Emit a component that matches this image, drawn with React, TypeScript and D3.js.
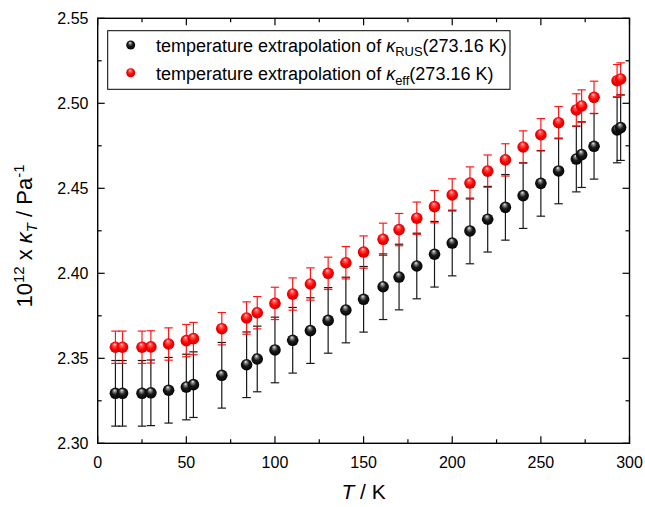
import React from "react";
import * as d3 from "d3";

const temperatures = [10, 14, 25, 30, 40, 50, 54, 70, 84, 90, 100, 110, 120, 130, 140, 150, 161, 170, 180, 190, 200, 210, 220, 230, 240, 250, 260, 270, 273, 280, 293, 295];
const kappaRUS = [2.3294, 2.3294, 2.3294, 2.3297, 2.3312, 2.3331, 2.3345, 2.34, 2.3462, 2.3496, 2.3549, 2.3606, 2.3663, 2.3723, 2.3784, 2.3847, 2.3921, 2.3978, 2.4043, 2.4112, 2.4178, 2.4249, 2.4318, 2.4388, 2.4457, 2.4529, 2.4602, 2.4672, 2.4698, 2.4747, 2.4843, 2.4857];
const kappaEff = [2.3565, 2.3565, 2.3565, 2.3567, 2.3584, 2.3604, 2.3616, 2.3674, 2.3737, 2.3768, 2.3823, 2.3878, 2.3937, 2.4, 2.4062, 2.4125, 2.42, 2.4257, 2.4324, 2.4392, 2.4461, 2.4531, 2.4601, 2.4667, 2.4743, 2.4815, 2.4886, 2.4961, 2.4984, 2.5035, 2.5133, 2.5143];
const errRUS = 0.0193;
const errEff = 0.0095;
const xTicks = [0, 50, 100, 150, 200, 250, 300];
const xMinor = [25, 75, 125, 175, 225, 275];
const yTicks = [2.3, 2.35, 2.4, 2.45, 2.5, 2.55];
const yMinor = [2.325, 2.375, 2.425, 2.475, 2.525];

const W = 645, H = 507;
const L = 97.7, R = 629.5, T = 18.3, B = 443.3;
const FONT = "Liberation Sans, Arial, sans-serif";

export default function App() {
  const x = d3.scaleLinear().domain([0, 300]).range([L, R]);
  const y = d3.scaleLinear().domain([2.3, 2.55]).range([B, T]);
  const majorLen = 7, minorLen = 4;
  const capW = 4.2;

  const series = [
    { vals: kappaRUS, err: errRUS, color: "#000", grad: "gBlack" },
    { vals: kappaEff, err: errEff, color: "#f00", grad: "gRed" },
  ];

  return (
    <svg width={W} height={H} style={{ position: "absolute", left: 0, top: 0 }} fontFamily={FONT}>
      <defs>
        <radialGradient id="gBlack" cx="0.5" cy="0.5" r="0.55" fx="0.42" fy="0.22">
          <stop offset="0" stopColor="#f2f2f2" />
          <stop offset="0.2" stopColor="#8a8a8a" />
          <stop offset="0.5" stopColor="#1a1a1a" />
          <stop offset="1" stopColor="#000" />
        </radialGradient>
        <radialGradient id="gRed" cx="0.5" cy="0.5" r="0.55" fx="0.42" fy="0.22">
          <stop offset="0" stopColor="#ffe6e6" />
          <stop offset="0.22" stopColor="#ff5a5a" />
          <stop offset="0.6" stopColor="#ff0000" />
          <stop offset="1" stopColor="#c80000" />
        </radialGradient>
      </defs>
      <rect x={0} y={0} width={W} height={H} fill="#fff" />

      {series.map((s, si) => (
        <g key={si}>
          {temperatures.map((t, i) => {
            const cx = x(t);
            const y1 = y(s.vals[i] + s.err);
            const y2 = y(s.vals[i] - s.err);
            return (
              <g key={i} stroke={s.color} strokeWidth={1.2} opacity={0.9}>
                <line x1={cx} x2={cx} y1={y1} y2={y2} />
                <line x1={cx - capW} x2={cx + capW} y1={y1} y2={y1} />
                <line x1={cx - capW} x2={cx + capW} y1={y2} y2={y2} />
              </g>
            );
          })}
          {temperatures.map((t, i) => (
            <circle key={i} cx={x(t)} cy={y(s.vals[i])} r={5.8} fill={`url(#${s.grad})`} />
          ))}
        </g>
      ))}

      {/* frame */}
      <rect x={L} y={T} width={R - L} height={B - T} fill="none" stroke="#000" strokeWidth={1.4} />

      {/* ticks */}
      <g stroke="#000" strokeWidth={1.2}>
        {xTicks.map((v) => (
          <g key={"xt" + v}>
            <line x1={x(v)} x2={x(v)} y1={B} y2={B - majorLen} />
            <line x1={x(v)} x2={x(v)} y1={T} y2={T + majorLen} />
          </g>
        ))}
        {xMinor.map((v) => (
          <g key={"xm" + v}>
            <line x1={x(v)} x2={x(v)} y1={B} y2={B - minorLen} />
            <line x1={x(v)} x2={x(v)} y1={T} y2={T + minorLen} />
          </g>
        ))}
        {yTicks.map((v) => (
          <g key={"yt" + v}>
            <line x1={L} x2={L + majorLen} y1={y(v)} y2={y(v)} />
            <line x1={R} x2={R - majorLen} y1={y(v)} y2={y(v)} />
          </g>
        ))}
        {yMinor.map((v) => (
          <g key={"ym" + v}>
            <line x1={L} x2={L + minorLen} y1={y(v)} y2={y(v)} />
            <line x1={R} x2={R - minorLen} y1={y(v)} y2={y(v)} />
          </g>
        ))}
      </g>

      {/* tick labels */}
      <g fontSize={16} fill="#000">
        {xTicks.map((v) => (
          <text key={"xl" + v} x={x(v)} y={467.5} textAnchor="middle">{v}</text>
        ))}
        {yTicks.map((v) => (
          <text key={"yl" + v} x={88.5} y={y(v) + 5.7} textAnchor="end">{v.toFixed(2)}</text>
        ))}
      </g>

      {/* axis titles */}
      <text x={(L + R) / 2} y={499} fontSize={21} textAnchor="middle">
        <tspan fontStyle="italic">T</tspan>
        <tspan> / K</tspan>
      </text>
      <text transform={`translate(31.5, 236) rotate(-90)`} fontSize={22} textAnchor="middle">
        <tspan>10</tspan>
        <tspan fontSize={15} dy={-8}>12</tspan>
        <tspan dy={8}> x </tspan>
        <tspan fontStyle="italic">κ</tspan>
        <tspan fontStyle="italic" fontSize={15} dy={5}>T</tspan>
        <tspan dy={-5}> / Pa</tspan>
        <tspan fontSize={15} dy={-8}>-1</tspan>
      </text>

      {/* legend */}
      <rect x={107.7} y={30.7} width={402.3} height={58.6} fill="#fff" stroke="#000" strokeWidth={1} />
      <circle cx={130.7} cy={45} r={4.5} fill="url(#gBlack)" />
      <circle cx={130.7} cy={72.7} r={4.5} fill="url(#gRed)" />
      <text x={156} y={51.7} fontSize={18}>
        <tspan>temperature extrapolation of </tspan>
        <tspan fontStyle="italic">κ</tspan>
        <tspan fontSize={13} dy={4.5}>RUS</tspan>
        <tspan dy={-4.5}>(273.16 K)</tspan>
      </text>
      <text x={156} y={80} fontSize={18}>
        <tspan>temperature extrapolation of </tspan>
        <tspan fontStyle="italic">κ</tspan>
        <tspan fontSize={13} dy={4.5}>eff</tspan>
        <tspan dy={-4.5}>(273.16 K)</tspan>
      </text>
    </svg>
  );
}
